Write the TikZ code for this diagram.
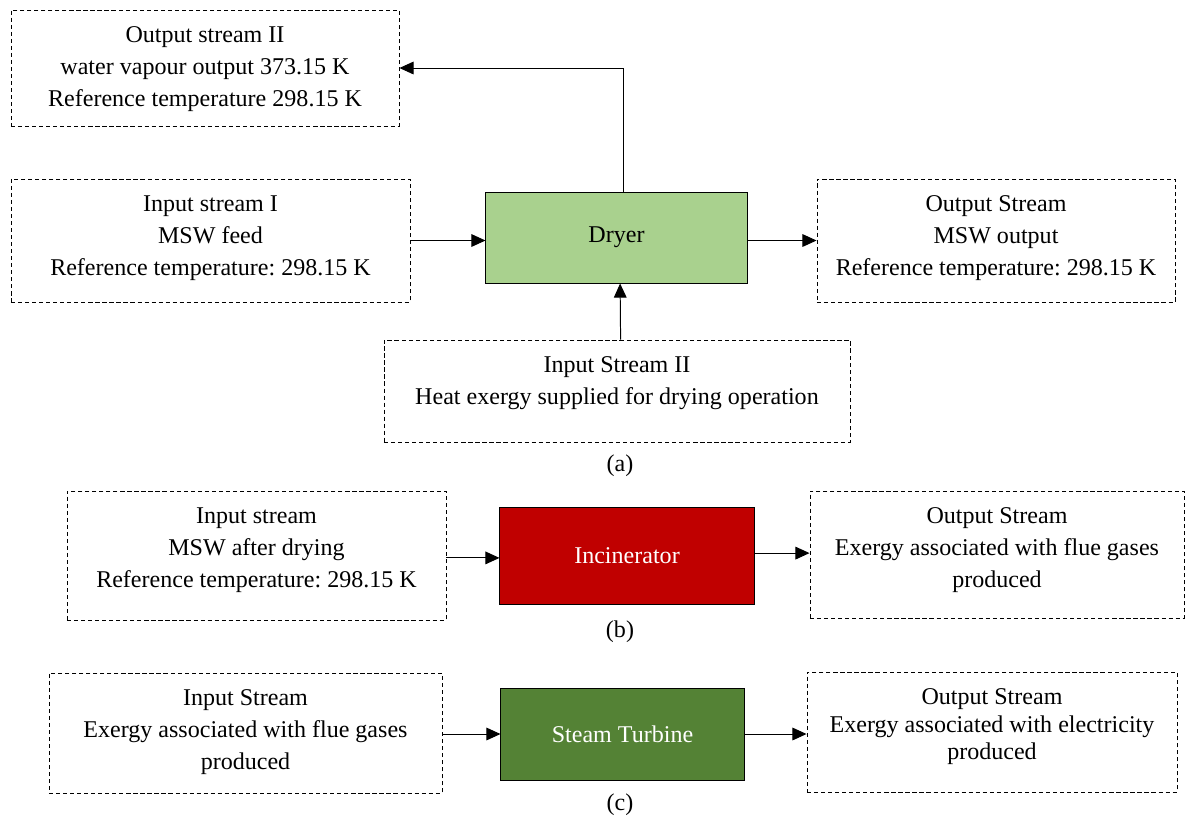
\documentclass[tikz,border=0pt]{standalone}
\usepackage{fontspec}
\setmainfont{Liberation Serif}
\usepackage{tikz}
\usepackage{xcolor}
\usetikzlibrary{arrows.meta}
\frenchspacing

\definecolor{dryergreen}{HTML}{A9D18E}
\definecolor{incred}{HTML}{C00000}
\definecolor{turbgreen}{HTML}{548235}

\tikzset{
  stream/.style={draw, dash pattern=on 3pt off 2pt, line width=0.6pt, inner sep=0pt},
  unit/.style={draw, line width=0.7pt, inner sep=0pt},
  txt/.style={align=center, inner sep=0pt, anchor=north},
  flow/.style={line width=0.7pt, -{Triangle[length=10pt,width=9pt]}},
}

\begin{document}
\begin{tikzpicture}[x=0.025cm, y=-0.025cm, font=\fontsize{17.1}{22.7}\selectfont]
\useasboundingbox (0,0) rectangle (1185,818);

% (a) dryer
\node[stream, minimum width=9.7cm, minimum height=2.9cm] (outii) at (205,68) {};
\node[stream, minimum width=9.975cm, minimum height=3.075cm] (ini) at (210.5,240.5) {};
\node[unit, fill=dryergreen, minimum width=6.525cm, minimum height=2.275cm] (dryer) at (616.5,237.5) {Dryer};
\node[stream, minimum width=8.95cm, minimum height=3.075cm] (outa) at (996,240.5) {};
\node[stream, minimum width=11.65cm, minimum height=2.55cm] (inii) at (617,391) {};

\node[txt] (outiit) at ([yshift=-0.42cm]outii.north) {Output stream II\\water vapour output 373.15 K\\Reference temperature 298.15 K};
\node[txt] (init) at ([yshift=-0.42cm]ini.north) {Input stream I\\MSW feed\\Reference temperature: 298.15 K};
\node[txt] (outat) at ([yshift=-0.42cm]outa.north) {Output Stream\\MSW output\\Reference temperature: 298.15 K};
\node[txt] (iniit) at ([yshift=-0.42cm]inii.north) {Input Stream II\\Heat exergy supplied for drying operation};

\draw[flow] (ini.east) -- (ini.east -| dryer.west);
\draw[flow] (dryer.east |- outa.west) -- (outa.west);
\draw[flow] ([xshift=0.09cm]inii.north) -- ([xshift=0.09cm]dryer.south);
\draw[flow] ([xshift=0.18cm]dryer.north) |- (outii.east);

\node (capa) at (620,466) {(a)};

% (b) incinerator
\node[stream, minimum width=9.475cm, minimum height=3.225cm] (inb) at (256.5,555.5) {};
\node[unit, fill=incred, text=white, minimum width=6.35cm, minimum height=2.425cm] (incin) at (627,555.5) {Incinerator};
\node[stream, minimum width=9.35cm, minimum height=3.175cm] (outb) at (997,554.5) {};

\node[txt] (inbt) at ([yshift=-0.42cm]inb.north) {Input stream\\MSW after drying\\Reference temperature: 298.15 K};
\node[txt] (outbt) at ([yshift=-0.42cm]outb.north) {Output Stream\\Exergy associated with flue gases\\produced};

\draw[flow] ([yshift=-0.06cm]inb.east) -- ([yshift=-0.06cm]inb.east -| incin.west);
\draw[flow] ([yshift=0.06cm]incin.east) -- ([yshift=0.06cm]incin.east -| outb.west);

\node (capb) at (620,632) {(b)};

% (c) steam turbine
\node[stream, minimum width=9.825cm, minimum height=3.0cm] (inc) at (245.5,733) {};
\node[unit, fill=turbgreen, text=white, minimum width=6.075cm, minimum height=2.3cm] (turb) at (622.5,734) {Steam Turbine};
\node[stream, minimum width=9.25cm, minimum height=3.0cm] (outc) at (992,732) {};

\node[txt] (inct) at ([yshift=-0.42cm]inc.north) {Input Stream\\Exergy associated with flue gases\\produced};
\node[txt, font=\fontsize{17.1}{19.5}\selectfont] (outct) at ([yshift=-0.42cm]outc.north) {Output Stream\\Exergy associated with electricity\\produced};

\draw[flow] (inc.east |- turb.west) -- (turb.west);
\draw[flow] (turb.east) -- (turb.east -| outc.west);

\node (capc) at (620,805) {(c)};

\end{tikzpicture}
\end{document}
